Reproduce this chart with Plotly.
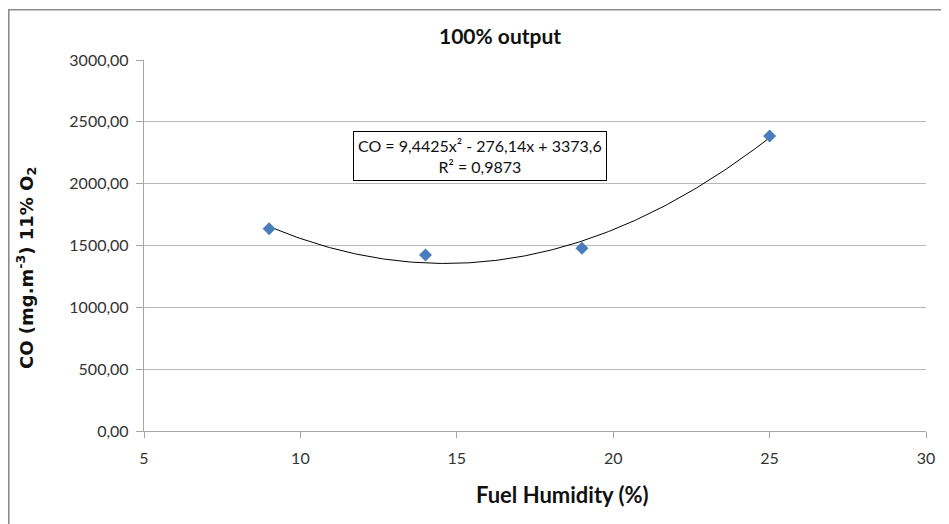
import numpy as np
import plotly.graph_objects as go

# Data
humidity = [9, 14, 19, 25]
co_values = [1636, 1423, 1477, 2385]
trend_coeffs = [9.4425, -276.14, 3373.6]
x_ticks = [5, 10, 15, 20, 25, 30]
y_ticks = [0, 500, 1000, 1500, 2000, 2500, 3000]
title_text = "100% output"
x_title = "Fuel Humidity (%)"
y_title = "CO (mg.m<sup>-3</sup>) 11% O<sub>2</sub>"
equation_text = "CO = 9,4425x² - 276,14x + 3373,6<br>R² = 0,9873"

OFF = 8  # browser body margin
W, H = 949 - OFF, 524 - OFF
# plot area in page pixels: x 144..926, y 60..431
L, R, T, B = 144 - OFF, 949 - 926, 60 - OFF, 524 - 431
pw, ph = W - L - R, H - T - B

xt = np.linspace(min(humidity), max(humidity), 200)
yt = np.polyval(trend_coeffs, xt)

fig = go.Figure()
fig.add_trace(go.Scatter(x=xt, y=yt, mode="lines",
                         line=dict(color="#000000", width=1), hoverinfo="skip"))
fig.add_trace(go.Scatter(x=humidity, y=co_values, mode="markers",
                         marker=dict(symbol="diamond", size=10, color="#4A7EBB",
                                     line=dict(width=0))))

def px_x(p):  # page pixel -> paper
    return (p - OFF - L) / pw

def px_y(p):
    return (H - B - (p - OFF)) / ph

fig.update_layout(
    width=W, height=H,
    margin=dict(l=L, r=R, t=T, b=B),
    paper_bgcolor="white", plot_bgcolor="white",
    showlegend=False,
    separators=", ",
    font=dict(family="Lato, Open Sans, sans-serif", color="#222222"),
    xaxis=dict(range=[5, 30], tickvals=x_ticks, showgrid=False, zeroline=False,
               showline=True, linecolor="#a6a6a6", linewidth=1.3,
               ticks="outside", ticklen=6, tickcolor="#a6a6a6",
               ticklabelstandoff=7,
               tickfont=dict(size=16, color="#333333"), fixedrange=True),
    yaxis=dict(range=[0, 3000], tickvals=y_ticks, tickformat=".2f",
               showgrid=True, gridcolor="#b8b8b8", gridwidth=1.4, zeroline=False,
               showline=True, linecolor="#a6a6a6", linewidth=1.3,
               ticks="outside", ticklen=7, tickcolor="#a6a6a6",
               ticklabelstandoff=4,
               tickfont=dict(size=16, color="#333333"), fixedrange=True),
    shapes=[dict(type="rect", xref="paper", yref="paper",
                 x0=px_x(8.8), x1=px_x(970), y0=px_y(540), y1=px_y(9.8),
                 line=dict(color="#8c8c8c", width=1.6), fillcolor="rgba(0,0,0,0)",
                 layer="below")],
    annotations=[
        dict(text="<b>" + title_text + "</b>", xref="paper", yref="paper",
             x=px_x(500), y=px_y(36), showarrow=False,
             font=dict(size=21, color="#111111"), xanchor="center", yanchor="middle"),
        dict(text="<b>" + x_title + "</b>", xref="paper", yref="paper",
             x=px_x(562), y=px_y(494), showarrow=False,
             font=dict(size=22, color="#111111"), xanchor="center", yanchor="middle"),
        dict(text="<b>" + y_title + "</b>", xref="paper", yref="paper",
             x=px_x(26), y=px_y(268), showarrow=False, textangle=-90,
             font=dict(size=18, color="#111111", family="DejaVu Sans"),
             xanchor="center", yanchor="middle"),
        dict(text=equation_text, xref="paper", yref="paper",
             x=px_x(480), y=px_y(156), showarrow=False,
             font=dict(size=16, color="#111111"), xanchor="center", yanchor="middle",
             bgcolor="white", bordercolor="#000000", borderwidth=1, borderpad=4,
             align="center"),
    ],
)

fig.write_html("out.html")
